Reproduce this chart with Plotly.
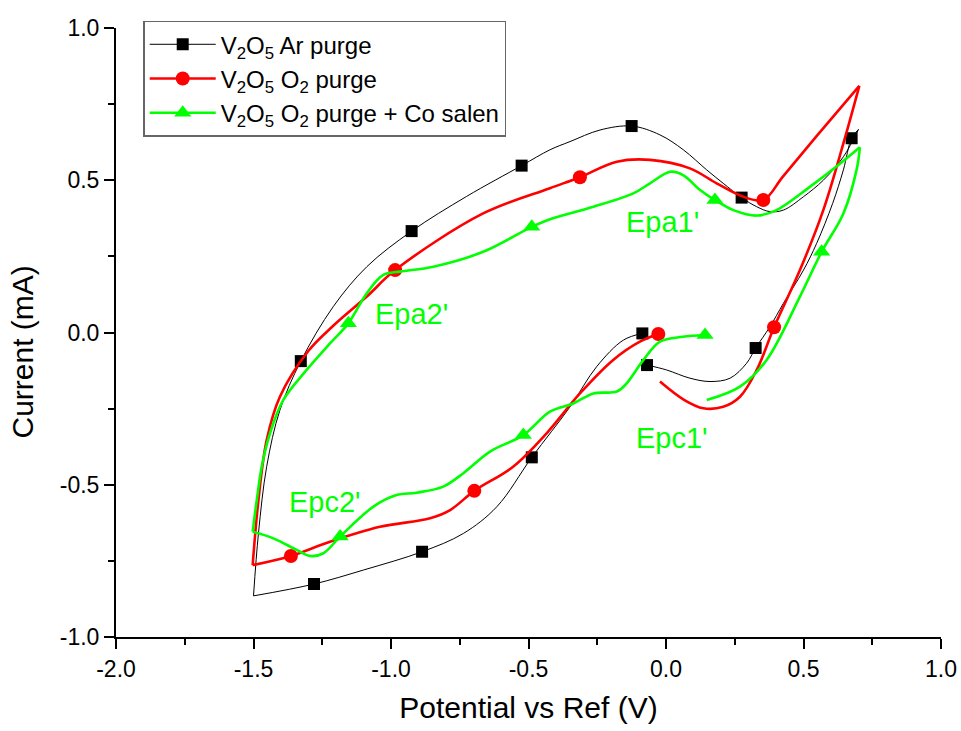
import plotly.graph_objects as go

# ---------------- data ----------------
# V2O5 Ar purge (black)
AR_X = [-0.069, 0.002, 0.087, 0.160, 0.233, 0.293, 0.326, 0.378, 0.427, 0.500, 0.548, 0.606, 0.645, 0.675, 0.700,
        0.645, 0.572, 0.500, 0.427, 0.378, 0.330, 0.275, 0.208, 0.148, 0.063, -0.022, -0.125, -0.240, -0.349, -0.422,
        -0.525, -0.725, -0.925, -1.088, -1.210, -1.328, -1.404, -1.452, -1.482, -1.500,
        -1.280, -1.100, -0.887, -0.737, -0.615, -0.488, -0.349, -0.252, -0.155, -0.086]
AR_Y = [-0.107, -0.123, -0.150, -0.161, -0.150, -0.101, -0.051, 0.019, 0.096, 0.205, 0.293, 0.424, 0.534, 0.638, 0.667,
        0.577, 0.500, 0.446, 0.402, 0.397, 0.413, 0.443, 0.490, 0.534, 0.600, 0.649, 0.678, 0.665, 0.627, 0.600,
        0.548, 0.447, 0.333, 0.216, 0.085, -0.094, -0.255, -0.440, -0.660, -0.865,
        -0.826, -0.780, -0.720, -0.660, -0.572, -0.410, -0.244, -0.112, -0.025, -0.003]
AR_MX = [-0.069, 0.326, 0.675, 0.275, -0.125, -0.525, -0.925, -1.328, -1.280, -0.887, -0.488, -0.086]
AR_MY = [-0.107, -0.051, 0.638, 0.443, 0.678, 0.548, 0.333, -0.094, -0.826, -0.720, -0.410, -0.003]

# V2O5 O2 purge (red)
O2_X = [-0.022, 0.067, 0.136, 0.208, 0.269, 0.330, 0.393, 0.487, 0.572, 0.645, 0.703,
        0.546, 0.425, 0.354, 0.281, 0.184, 0.087, -0.058, -0.179, -0.313, -0.422, -0.665, -0.985, -1.088,
        -1.210, -1.300, -1.404, -1.452, -1.482, -1.503,
        -1.364, -1.222, -1.040, -0.858, -0.785, -0.697, -0.556, -0.434, -0.313, -0.192, -0.095, -0.028]
O2_Y = [-0.161, -0.222, -0.249, -0.244, -0.211, -0.123, 0.017, 0.205, 0.402, 0.621, 0.810,
        0.643, 0.512, 0.435, 0.446, 0.490, 0.539, 0.567, 0.561, 0.510, 0.474, 0.391, 0.205, 0.118,
        0.022, -0.060, -0.211, -0.353, -0.550, -0.764,
        -0.734, -0.687, -0.638, -0.610, -0.583, -0.520, -0.441, -0.331, -0.200, -0.090, -0.030, -0.005]
O2_MX = [-0.028, 0.393, 0.354, -0.313, -0.985, -1.364, -0.697]
O2_MY = [-0.005, 0.017, 0.435, 0.510, 0.205, -0.734, -0.520]

# V2O5 O2 purge + Co salen (green)
CO_X = [0.148, 0.269, 0.366, 0.487, 0.566, 0.645, 0.693, 0.705,
        0.620, 0.524, 0.402, 0.330, 0.245, 0.178, 0.124, 0.062, 0.015, -0.058, -0.119, -0.264, -0.422, -0.488,
        -0.665, -0.846, -0.967, -1.028, -1.088, -1.155, -1.222, -1.307, -1.392, -1.440, -1.470, -1.488, -1.503,
        -1.428, -1.343, -1.295, -1.246, -1.185, -1.064, -0.980, -0.907, -0.810, -0.737, -0.640, -0.519, -0.422,
        -0.337, -0.264, -0.179, -0.143, -0.082, -0.022, 0.061, 0.142]
CO_Y = [-0.222, -0.178, -0.090, 0.118, 0.265, 0.391, 0.534, 0.608,
        0.545, 0.479, 0.402, 0.384, 0.402, 0.435, 0.468, 0.517, 0.528, 0.490, 0.457, 0.413, 0.372, 0.347,
        0.265, 0.216, 0.200, 0.189, 0.129, 0.030, -0.036, -0.123, -0.222, -0.331, -0.440, -0.550, -0.654,
        -0.676, -0.714, -0.734, -0.725, -0.670, -0.572, -0.534, -0.526, -0.506, -0.462, -0.391, -0.337, -0.260,
        -0.233, -0.200, -0.194, -0.167, -0.090, -0.030, -0.014, -0.008]
CO_MX = [0.142, 0.566, 0.178, -0.488, -1.155, -1.185, -0.519]
CO_MY = [-0.008, 0.265, 0.435, 0.347, 0.030, -0.670, -0.337]

SERIES_NAMES = ["V<sub>2</sub>O<sub>5</sub> Ar purge",
                "V<sub>2</sub>O<sub>5</sub> O<sub>2</sub> purge",
                "V<sub>2</sub>O<sub>5</sub> O<sub>2</sub> purge + Co salen"]

X_TICKS = [-2.0, -1.5, -1.0, -0.5, 0.0, 0.5, 1.0]
X_TICK_LABELS = ["-2.0", "-1.5", "-1.0", "-0.5", "0.0", "0.5", "1.0"]
Y_TICKS = [-1.0, -0.5, 0.0, 0.5, 1.0]
Y_TICK_LABELS = ["-1.0", "-0.5", "0.0", "0.5", "1.0"]
X_TITLE = "Potential vs Ref (V)"
Y_TITLE = "Current (mA)"

ANNOT_TEXT = ["Epa1'", "Epa2'", "Epc1'", "Epc2'"]
ANNOT_X = [-0.011, -0.925, 0.020, -1.240]
ANNOT_Y = [0.363, 0.061, -0.348, -0.555]

FONT = "Liberation Sans, Arial, sans-serif"
BLACK, RED, GREEN = "#000000", "#FF0000", "#00FF00"


def split_at_vertices(xs, ys):
    """Break the path at the switching potentials so that spline keeps sharp vertices."""
    cuts = sorted([xs.index(max(xs)), xs.index(min(xs))])
    ox, oy, prev = [], [], 0
    for c in cuts:
        ox += xs[prev:c + 1] + [None]
        oy += ys[prev:c + 1] + [None]
        prev = c
    ox += xs[prev:]
    oy += ys[prev:]
    return ox, oy


fig = go.Figure()

styles = [
    (AR_X, AR_Y, AR_MX, AR_MY, BLACK, 1.0, "square", 12),
    (O2_X, O2_Y, O2_MX, O2_MY, RED, 2.6, "circle", 14),
    (CO_X, CO_Y, CO_MX, CO_MY, GREEN, 2.6, "triangle-up", 15),
]

for name, (xs, ys, mx, my, col, lw, sym, ms) in zip(SERIES_NAMES, styles):
    lx, ly = split_at_vertices(xs, ys)
    fig.add_trace(go.Scatter(x=lx, y=ly, mode="lines", connectgaps=False,
                             line=dict(color=col, width=lw, shape="spline", smoothing=1.0),
                             showlegend=False, hoverinfo="skip"))
    fig.add_trace(go.Scatter(x=mx, y=my, mode="markers",
                             marker=dict(color=col, symbol=sym, size=ms, line=dict(width=0)),
                             showlegend=False))
    # legend entry
    fig.add_trace(go.Scatter(x=[None], y=[None], mode="lines+markers", name=name,
                             line=dict(color=col, width=lw),
                             marker=dict(color=col, symbol=sym, size=ms, line=dict(width=0))))

for t, x, y in zip(ANNOT_TEXT, ANNOT_X, ANNOT_Y):
    fig.add_annotation(x=x, y=y, text=t, showarrow=False, xanchor="center", yanchor="middle",
                       font=dict(family=FONT, size=29, color=GREEN))

# y-axis title (sits slightly below the axis centre in the reference)
fig.add_annotation(xref="paper", yref="paper", x=-0.1133, y=0.468, text=Y_TITLE, textangle=-90,
                   showarrow=False, xanchor="center", yanchor="middle",
                   font=dict(family=FONT, size=30, color="black"))

axis_common = dict(
    showline=True, linecolor="black", linewidth=2, mirror=False,
    ticks="outside", ticklen=10, tickwidth=2, tickcolor="black",
    showgrid=False, zeroline=False, automargin=False,
    tickfont=dict(family=FONT, size=23, color="black"),
)

fig.update_xaxes(range=[-2.0, 1.0], tickvals=X_TICKS, ticktext=X_TICK_LABELS,
                 minor=dict(ticks="outside", ticklen=6, tickwidth=2, tickcolor="black", dtick=0.25),
                 title=dict(text=X_TITLE, font=dict(family=FONT, size=30, color="black"),
                            standoff=16),
                 **axis_common)
fig.update_yaxes(range=[-1.0, 1.0], tickvals=Y_TICKS, ticktext=Y_TICK_LABELS,
                 minor=dict(ticks="outside", ticklen=6, tickwidth=2, tickcolor="black", dtick=0.25),
                 **axis_common)

fig.update_layout(
    width=961, height=731,
    margin=dict(l=116, r=20, t=28, b=94),
    plot_bgcolor="white", paper_bgcolor="white",
    font=dict(family=FONT, color="black"),
    legend=dict(x=0.033, y=1.012, xanchor="left", yanchor="top",
                bgcolor="white", bordercolor="#666666", borderwidth=1.5,
                font=dict(family=FONT, size=24, color="black"),
                tracegroupgap=0, itemwidth=66),
)

fig.write_html("out.html", config={"displayModeBar": False},
               post_script="document.body.style.margin='0';")
